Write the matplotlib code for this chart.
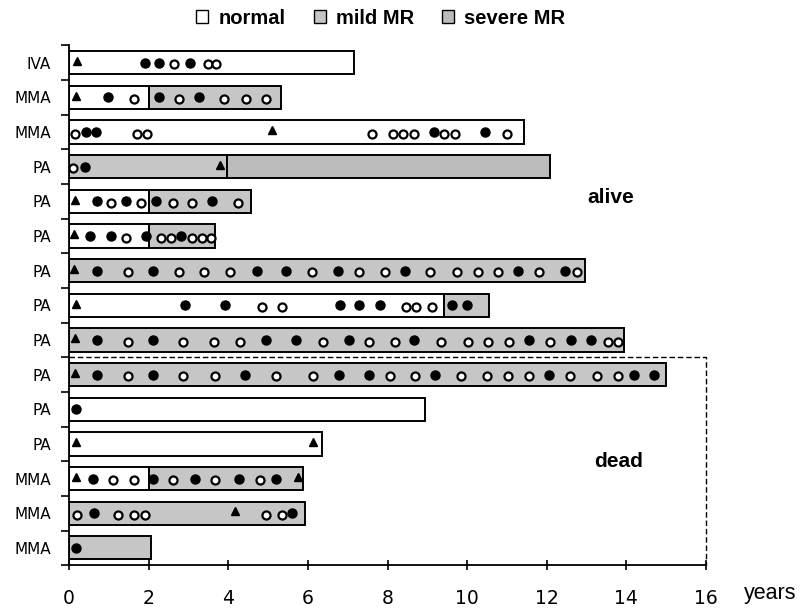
import matplotlib.pyplot as plt
from matplotlib.patches import Patch

# rows from top to bottom
labels = ["IVA", "MMA", "MMA", "PA", "PA", "PA", "PA", "PA", "PA", "PA",
          "PA", "PA", "MMA", "MMA", "MMA"]

# segment ends in years (normal from 0, then mild, then severe)
normal_end = [7.15, 2.0, 11.42, 0, 2.0, 2.0, 0, 9.42, 0, 0, 8.95, 6.35, 2.0, 0, 0]
mild_end = [7.15, 5.32, 11.42, 3.97, 4.57, 3.66, 12.95, 10.55, 13.95, 15.0,
            8.95, 6.35, 5.88, 5.92, 2.07]
severe_end = [7.15, 5.32, 11.42, 12.08, 4.57, 3.66, 12.95, 10.55, 13.95, 15.0,
              8.95, 6.35, 5.88, 5.92, 2.07]

triangles = [
    [0.2], [0.18], [5.1], [3.8], [0.15], [0.13], [0.13], [0.18], [0.15], [0.15],
    [], [0.18, 6.12], [0.18, 5.75], [4.18], [],
]

filled = [
    [1.9, 2.27, 3.05],
    [0.97, 2.25, 3.27],
    [0.43, 0.68, 9.17, 10.45],
    [0.4],
    [0.7, 1.43, 2.19, 3.6],
    [0.53, 1.06, 1.93, 2.82],
    [0.71, 2.11, 4.71, 5.45, 6.76, 8.45, 11.28, 12.47],
    [2.92, 3.93, 6.8, 7.29, 7.81, 9.62, 10.0],
    [0.7, 2.1, 4.95, 5.7, 7.03, 8.67, 11.56, 12.62, 13.12],
    [0.7, 2.11, 4.43, 6.77, 7.54, 9.2, 12.06, 14.2, 14.7],
    [0.18],
    [],
    [0.6, 2.11, 3.16, 4.27, 5.19],
    [0.63, 5.6],
    [0.18],
]

hollow = [
    [2.64, 3.48, 3.7],
    [1.62, 2.75, 3.9, 4.45, 4.95],
    [0.16, 1.72, 1.96, 7.6, 8.13, 8.38, 8.66, 9.42, 9.7, 11.0],
    [0.1],
    [1.06, 1.81, 2.6, 3.1, 4.24],
    [1.43, 2.31, 2.56, 3.09, 3.34, 3.57],
    [1.48, 2.75, 3.4, 4.04, 6.1, 7.29, 7.93, 9.07, 9.75, 10.27, 10.78, 11.8, 12.77],
    [4.84, 5.36, 8.46, 8.72, 9.12],
    [1.48, 2.87, 3.63, 4.29, 6.37, 7.54, 8.2, 9.35, 10.02, 10.53, 11.06, 12.09,
     13.53, 13.8],
    [1.49, 2.87, 3.66, 5.19, 6.14, 8.06, 8.7, 9.85, 10.5, 11.03, 11.56, 12.59,
     13.26, 13.8],
    [],
    [],
    [1.1, 1.62, 2.61, 3.66, 4.8],
    [0.21, 1.24, 1.64, 1.9, 4.95, 5.35],
    [],
]

col_normal = "white"
col_mild = "#c6c6c6"
col_severe = "#bcbcbc"

fig = plt.figure(figsize=(8.12, 6.13), dpi=100)
ax = fig.add_axes([0.085, 0.078, 0.7845, 0.848])

bar_h = 0.67
for i in range(len(labels)):
    segs = [(0, normal_end[i], col_normal),
            (normal_end[i], mild_end[i], col_mild),
            (mild_end[i], severe_end[i], col_severe)]
    for start, end, col in segs:
        if end - start > 0:
            ax.barh(i, end - start, left=start, height=bar_h, color=col,
                    edgecolor="black", linewidth=1.4, zorder=2)
    ax.plot(triangles[i], [i - 0.05] * len(triangles[i]), "^", color="black",
            markersize=6, zorder=3, clip_on=False)
    ax.plot(filled[i], [i] * len(filled[i]), "o", color="black",
            markersize=6.5, zorder=3)
    ax.plot(hollow[i], [i + 0.05] * len(hollow[i]), "o", markerfacecolor="white",
            markeredgecolor="black", markeredgewidth=1.6, markersize=5.8, zorder=3)

# dashed box around the dead patients
ax.plot([0, 16, 16], [8.5, 8.5, 14.5], linestyle="--", color="black",
        linewidth=1, dashes=(4, 2), clip_on=False, zorder=1)

ax.set_xlim(0, 16)
ax.set_ylim(14.5, -0.5)
ax.set_xticks(range(0, 17, 2))
ax.tick_params(axis="x", direction="inout", length=7, width=1.2, pad=14,
               labelsize=13.5)
ax.set_yticks([k - 0.5 for k in range(16)])
ax.set_yticklabels([])
ax.set_yticks(range(len(labels)), minor=True)
ax.set_yticklabels(labels, minor=True, fontsize=11)
ax.tick_params(axis="y", which="major", direction="out", length=6, width=1.2)
ax.tick_params(axis="y", which="minor", length=0, pad=13)

for side in ["top", "right"]:
    ax.spines[side].set_visible(False)
for side in ["left", "bottom"]:
    ax.spines[side].set_linewidth(1.3)

ax.text(13.6, 3.9, "alive", fontsize=15, fontweight="bold",
        family="Liberation Sans", ha="center", va="center")
ax.text(13.8, 11.5, "dead", fontsize=15, fontweight="bold",
        family="Liberation Sans", ha="center", va="center")
fig.text(770 / 812, 1 - 594 / 613, "years", fontsize=15.5,
         family="Liberation Sans", ha="center", va="center")

handles = [Patch(facecolor=col_normal, edgecolor="black", label="normal"),
           Patch(facecolor=col_mild, edgecolor="black", label="mild MR"),
           Patch(facecolor=col_severe, edgecolor="black", label="severe MR")]
fig.legend(handles=handles, loc="center", bbox_to_anchor=(0.469, 1 - 18 / 613),
           ncol=3, frameon=False, handlelength=0.6, handleheight=0.6,
           handletextpad=0.5, columnspacing=1.4,
           prop={"family": "Liberation Sans", "weight": "bold", "size": 14.5})

fig.savefig("out.png", dpi=100)
